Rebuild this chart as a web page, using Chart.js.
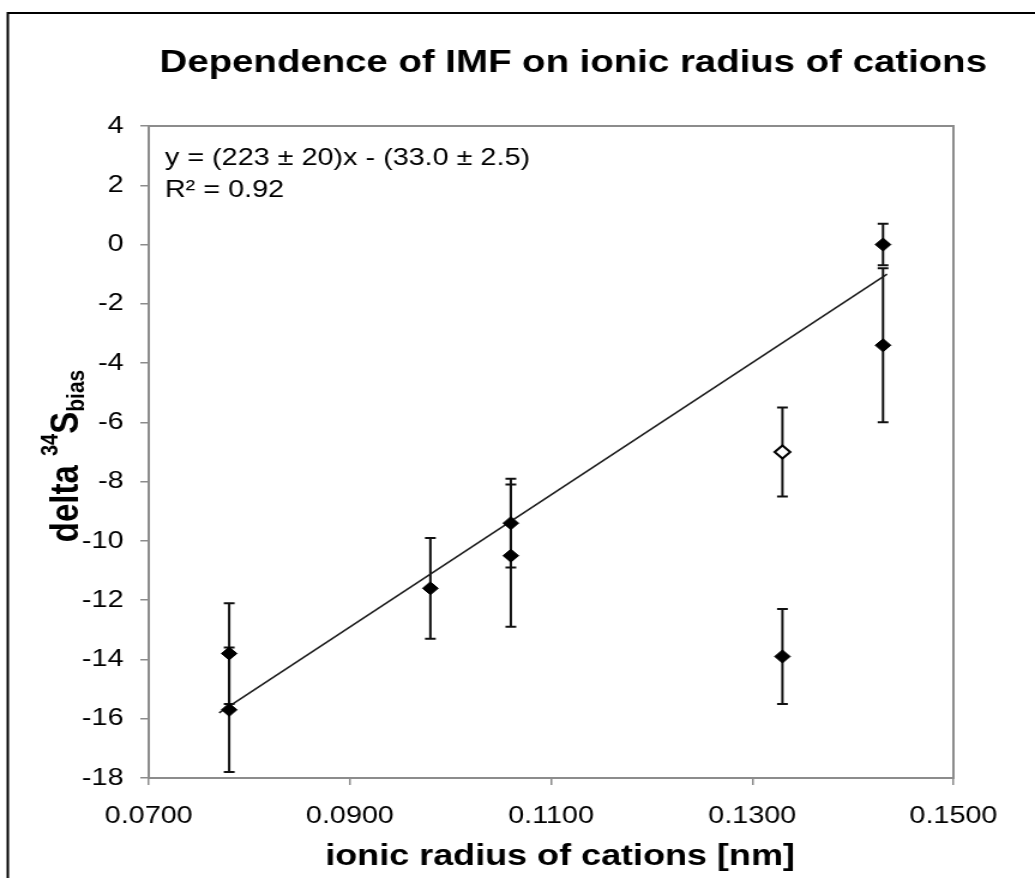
<!DOCTYPE html>
<html>
<head>
<meta charset="utf-8">
<script src="https://cdn.jsdelivr.net/npm/chart.js@4.4.1/dist/chart.umd.min.js"></script>
<style>
  html, body { margin: 0; padding: 0; background: #fff; overflow: hidden; }
  /* the original figure is stretched sideways, so draw narrow and widen it */
  #wrap { position: absolute; left: 0; top: 0; width: 863px; height: 878px; transform: scaleX(1.1993); transform-origin: 0 0; }
</style>
</head>
<body>
<div id="wrap"><canvas id="imfChart"></canvas></div>
<script>
// ionic radius [nm] vs delta 34S bias
const radius = [0.078, 0.078, 0.098, 0.106, 0.106, 0.133, 0.143, 0.143];
const delta = [-13.8, -15.7, -11.6, -9.4, -10.5, -13.9, 0.0, -3.4];
const deltaErr = [1.7, 2.1, 1.7, 1.5, 2.4, 1.6, 0.7, 2.6];

// the open (not fitted) point
const openRadius = [0.133];
const openDelta = [-7.0];
const openErr = [1.5];

// fitted line end points
const fitX = [0.077, 0.1434];
const fitY = [-15.8, -1.0];

const xTicks = [0.07, 0.09, 0.11, 0.13, 0.15];
const yMin = -18, yMax = 4, yStep = 2;

const titleText = 'Dependence of IMF on ionic radius of cations';
const xTitle = 'ionic radius of cations [nm]';
const fitText = ['y = (223 \u00b1 20)x - (33.0 \u00b1 2.5)', 'R\u00b2 = 0.92'];

const FONT = '"Liberation Sans", Arial, sans-serif';

const toPoints = (xs, ys) => xs.map((x, i) => ({ x: x, y: ys[i] }));

// vertical error bars with small caps
const errorBars = {
  id: 'errorBars',
  beforeDatasetsDraw(chart) {
    const ctx = chart.ctx;
    const yScale = chart.scales.y;
    ctx.save();
    ctx.strokeStyle = '#111';
    ctx.lineWidth = 2;
    chart.data.datasets.forEach((ds, i) => {
      if (!ds.errors) return;
      const meta = chart.getDatasetMeta(i);
      meta.data.forEach((pt, j) => {
        const v = ds.data[j].y;
        const e = ds.errors[j];
        const top = yScale.getPixelForValue(v + e);
        const bot = yScale.getPixelForValue(v - e);
        ctx.beginPath();
        ctx.moveTo(pt.x, top); ctx.lineTo(pt.x, bot);
        ctx.moveTo(pt.x - 4.5, top); ctx.lineTo(pt.x + 4.5, top);
        ctx.moveTo(pt.x - 4.5, bot); ctx.lineTo(pt.x + 4.5, bot);
        ctx.stroke();
      });
    });
    ctx.restore();
  }
};

// frame, plot box, titles and the fit equation
const decorations = {
  id: 'decorations',
  beforeDraw(chart) {
    const ctx = chart.ctx;
    ctx.save();
    ctx.fillStyle = '#fff';
    ctx.fillRect(0, 0, chart.width, chart.height);
    ctx.restore();
  },
  afterDraw(chart) {
    const ctx = chart.ctx;
    const a = chart.chartArea;
    ctx.save();

    // outer frame (only top and left are visible)
    ctx.strokeStyle = '#000';
    ctx.lineWidth = 2;
    ctx.beginPath();
    ctx.moveTo(6.5, chart.height);
    ctx.lineTo(6.5, 13);
    ctx.lineTo(chart.width, 13);
    ctx.stroke();

    // plot box
    ctx.strokeStyle = '#8c8c8c';
    ctx.lineWidth = 2;
    ctx.strokeRect(a.left, a.top, a.right - a.left, a.bottom - a.top);

    ctx.fillStyle = '#000';
    ctx.textBaseline = 'alphabetic';

    // chart title
    ctx.textAlign = 'center';
    ctx.font = 'bold 32px ' + FONT;
    ctx.fillText(titleText, 478, 72);

    // x axis title
    ctx.font = 'bold 30px ' + FONT;
    ctx.fillText(xTitle, 467, 865);

    // fit equation
    ctx.textAlign = 'left';
    ctx.font = '24px ' + FONT;
    ctx.fillText(fitText[0], 137.5, 165);
    ctx.fillText(fitText[1], 137.5, 197);

    // y axis title: delta 34S(bias)
    const parts = [
      { t: 'delta ', size: 33, dy: 0 },
      { t: '34', size: 20, dy: -17 },
      { t: 'S', size: 33, dy: 0 },
      { t: 'bias', size: 21, dy: 5 }
    ];
    let total = 0;
    parts.forEach(p => {
      ctx.font = 'bold ' + p.size + 'px ' + FONT;
      p.w = ctx.measureText(p.t).width;
      total += p.w;
    });
    ctx.translate(65, (a.top + a.bottom) / 2 + 4);
    ctx.rotate(-Math.PI / 2);
    let cx = -total / 2;
    parts.forEach(p => {
      ctx.font = 'bold ' + p.size + 'px ' + FONT;
      ctx.fillText(p.t, cx, p.dy);
      cx += p.w;
    });

    ctx.restore();
  }
};

const tickFont = { family: FONT, size: 24 };

new Chart(document.getElementById('imfChart'), {
  type: 'scatter',
  data: {
    datasets: [{
      label: 'measured',
      data: toPoints(radius, delta),
      errors: deltaErr,
      pointStyle: 'rectRot',
      pointRadius: 6.5,
      backgroundColor: '#000',
      borderColor: '#000',
      borderWidth: 1
    }, {
      label: 'excluded',
      data: toPoints(openRadius, openDelta),
      errors: openErr,
      pointStyle: 'rectRot',
      pointRadius: 6.5,
      backgroundColor: '#fff',
      borderColor: '#000',
      borderWidth: 2
    }, {
      label: 'fit',
      data: toPoints(fitX, fitY),
      showLine: true,
      pointRadius: 0,
      borderColor: '#1a1a1a',
      borderWidth: 1.5,
      fill: false
    }]
  },
  options: {
    responsive: true,
    maintainAspectRatio: false,
    animation: false,
    layout: { padding: { top: 126, right: 68, left: 0, bottom: 0 } },
    plugins: {
      legend: { display: false },
      title: { display: false },
      tooltip: { enabled: false }
    },
    scales: {
      x: {
        type: 'linear',
        min: xTicks[0],
        max: xTicks[xTicks.length - 1],
        afterBuildTicks: s => { s.ticks = xTicks.map(v => ({ value: v })); },
        afterFit: s => { s.height = 100; },
        border: { display: false },
        grid: { drawOnChartArea: false, tickLength: 7, color: '#8c8c8c', lineWidth: 1.5 },
        ticks: {
          font: tickFont,
          color: '#000',
          padding: 17,
          maxRotation: 0,
          callback: v => Number(v).toFixed(4)
        }
      },
      y: {
        min: yMin,
        max: yMax,
        afterFit: s => { s.width = 124; },
        border: { display: false },
        grid: { drawOnChartArea: false, tickLength: 7, color: '#8c8c8c', lineWidth: 1.5 },
        ticks: {
          stepSize: yStep,
          font: tickFont,
          color: '#000',
          padding: 14
        }
      }
    }
  },
  plugins: [decorations, errorBars]
});
</script>
</body>
</html>
